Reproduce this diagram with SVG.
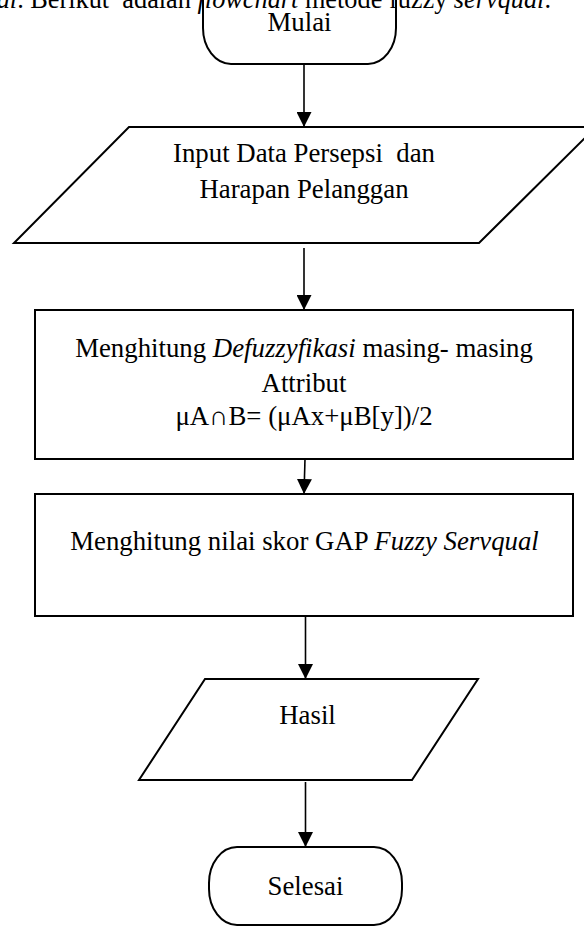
<svg xmlns="http://www.w3.org/2000/svg" width="584" height="927" viewBox="0 0 584 927">
<defs>
<style>
text{font-family:"Liberation Serif","Times New Roman",serif;font-size:26.8px;fill:#000}
.top{font-size:26.3px}
.it{font-style:italic}
.shape{fill:#fff;stroke:#000;stroke-width:2}
.conn{stroke:#000;stroke-width:1.6;fill:none}
</style>
<marker id="ah" markerUnits="userSpaceOnUse" markerWidth="15" markerHeight="15" refX="15" refY="7.5" orient="auto">
<path d="M0,0 L15,7.5 L0,15 Z" fill="#000"/>
</marker>
</defs>
<rect width="584" height="927" fill="#fff"/>
<g id="connectors">
<line class="conn" x1="304" y1="64" x2="304" y2="127" marker-end="url(#ah)"/>
<line class="conn" x1="304" y1="248" x2="304" y2="310" marker-end="url(#ah)"/>
<line class="conn" x1="305" y1="459" x2="304" y2="494" marker-end="url(#ah)"/>
<line class="conn" x1="305.5" y1="617" x2="305.5" y2="679" marker-end="url(#ah)"/>
<line class="conn" x1="305.5" y1="782" x2="305.5" y2="847" marker-end="url(#ah)"/>
</g>
<g id="mulai">
<rect class="shape" x="203" y="-40" width="193" height="104" rx="28" ry="36"/>
<text x="299.5" y="31" text-anchor="middle">Mulai</text>
</g>
<text class="top" x="551" y="7.5" text-anchor="end" xml:space="preserve"><tspan class="it">al</tspan>. Berikut  adalah <tspan class="it">flowchart</tspan> metode fuzzy <tspan class="it">servqual</tspan>.</text>
<g id="input">
<polygon class="shape" points="129,127 596,127 479,243 14,243"/>
<text x="304" y="162" text-anchor="middle" xml:space="preserve">Input Data Persepsi  dan</text>
<text x="304" y="197.5" text-anchor="middle">Harapan Pelanggan</text>
</g>
<g id="defuzzy">
<rect class="shape" x="35" y="310" width="538" height="149"/>
<text x="304" y="357" text-anchor="middle">Menghitung <tspan class="it">Defuzzyfikasi</tspan> masing- masing</text>
<text x="304" y="392" text-anchor="middle">Attribut</text>
<text x="304" y="425" text-anchor="middle">μA∩B= (μAx+μB[y])/2</text>
</g>
<g id="gap">
<rect class="shape" x="35" y="494" width="538" height="122"/>
<text x="304.5" y="549.5" text-anchor="middle">Menghitung nilai skor GAP <tspan class="it">Fuzzy Servqual</tspan></text>
</g>
<g id="hasil">
<polygon class="shape" points="205,679 478,679 412,780 139,780"/>
<text x="307.5" y="724" text-anchor="middle">Hasil</text>
</g>
<g id="selesai">
<rect class="shape" x="209" y="847" width="193" height="78" rx="28" ry="36"/>
<text x="305.5" y="895" text-anchor="middle">Selesai</text>
</g>
</svg>
